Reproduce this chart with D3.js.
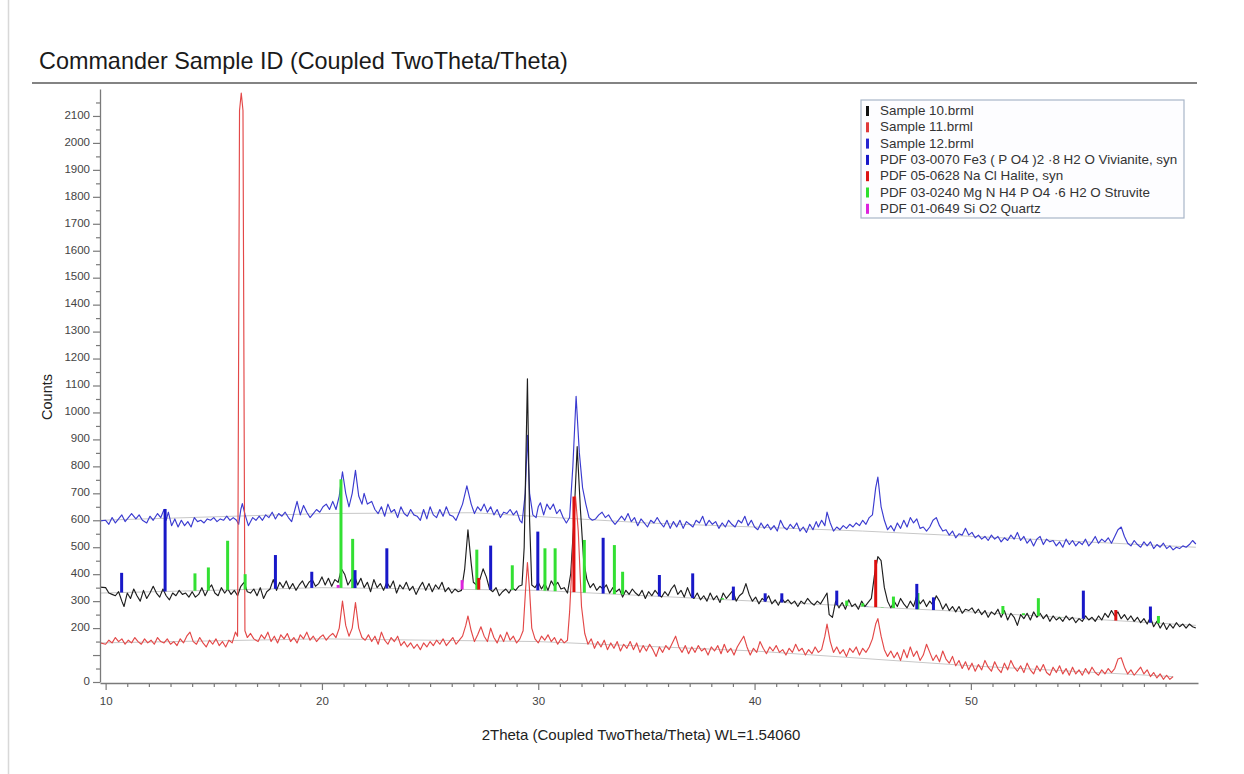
<!DOCTYPE html>
<html>
<head>
<meta charset="utf-8">
<script src="https://cdn.jsdelivr.net/npm/d3@7"></script>
<style>
  body { margin: 0; background: #fff; font-family: "Liberation Sans", Arial, sans-serif; }
  svg { display: block; }
</style>
</head>
<body>
<svg></svg>
<script>
// measured patterns, [2theta, counts]
let sample12 = [[9.75,598],[10.0,600],[10.15,585],[10.3,610],[10.45,590],[10.6,605],[10.75,620],[10.9,595],[11.05,610],[11.2,625],[11.4,605],[11.55,620],[11.7,600],[11.9,590],[12.05,615],[12.2,600],[12.4,625],[12.55,610],[12.7,640],[12.8,600],[12.9,630],[13.05,580],[13.2,605],[13.35,575],[13.5,600],[13.65,580],[13.8,595],[13.95,575],[14.1,610],[14.25,595],[14.4,600],[14.55,590],[14.7,605],[14.85,600],[15.0,610],[15.15,595],[15.3,605],[15.45,600],[15.6,615],[15.75,600],[15.9,610],[16.05,600],[16.15,585],[16.25,640],[16.32,662],[16.45,620],[16.6,580],[16.8,610],[16.95,600],[17.1,615],[17.25,600],[17.4,620],[17.55,610],[17.7,630],[17.85,605],[18.0,625],[18.15,615],[18.3,630],[18.45,610],[18.6,595],[18.75,640],[18.85,670],[19.0,620],[19.15,655],[19.3,630],[19.45,610],[19.6,625],[19.75,640],[19.9,630],[20.05,650],[20.2,660],[20.35,640],[20.5,670],[20.65,640],[20.8,690],[20.95,780],[21.1,700],[21.25,650],[21.4,700],[21.55,785],[21.7,690],[21.85,660],[21.95,700],[22.1,660],[22.3,670],[22.45,640],[22.6,625],[22.75,650],[22.9,615],[23.05,660],[23.2,630],[23.35,640],[23.5,610],[23.65,650],[23.8,625],[23.95,615],[24.1,640],[24.25,620],[24.4,615],[24.55,600],[24.7,640],[24.85,605],[25.0,650],[25.15,620],[25.3,610],[25.45,640],[25.6,615],[25.75,650],[25.9,620],[26.05,615],[26.2,600],[26.35,630],[26.5,660],[26.7,728],[26.9,660],[27.05,625],[27.2,650],[27.35,635],[27.5,660],[27.65,630],[27.8,650],[27.95,620],[28.1,640],[28.25,610],[28.4,630],[28.55,625],[28.7,640],[28.85,620],[29.0,635],[29.15,600],[29.25,590],[29.4,700],[29.5,915],[29.6,700],[29.75,620],[29.9,610],[30.0,650],[30.1,665],[30.25,620],[30.4,660],[30.55,640],[30.7,660],[30.85,625],[31.0,640],[31.15,610],[31.3,590],[31.45,610],[31.6,800],[31.75,1060],[31.9,850],[32.05,720],[32.2,660],[32.35,610],[32.5,600],[32.65,605],[32.8,620],[32.95,630],[33.1,610],[33.25,620],[33.4,600],[33.55,585],[33.7,600],[33.85,615],[34.0,600],[34.15,625],[34.3,595],[34.45,610],[34.6,580],[34.75,605],[34.9,590],[35.05,575],[35.2,600],[35.35,590],[35.5,610],[35.65,590],[35.8,575],[35.95,600],[36.1,570],[36.25,595],[36.4,575],[36.55,600],[36.7,570],[36.85,595],[37.0,585],[37.15,575],[37.3,600],[37.45,590],[37.6,615],[37.75,580],[37.9,600],[38.05,585],[38.2,595],[38.35,570],[38.5,590],[38.65,575],[38.8,600],[38.95,585],[39.1,575],[39.25,600],[39.4,590],[39.55,615],[39.7,580],[39.85,600],[40.0,575],[40.15,565],[40.3,590],[40.45,570],[40.6,585],[40.75,565],[40.9,580],[41.05,560],[41.2,600],[41.35,575],[41.5,565],[41.65,585],[41.8,570],[41.95,590],[42.1,560],[42.25,575],[42.4,555],[42.55,585],[42.7,565],[42.85,595],[42.95,575],[43.1,600],[43.25,580],[43.35,630],[43.5,590],[43.65,560],[43.8,575],[43.95,565],[44.1,580],[44.25,570],[44.4,585],[44.55,575],[44.7,590],[44.85,580],[45.0,600],[45.15,585],[45.3,610],[45.45,620],[45.6,720],[45.7,760],[45.85,650],[46.0,600],[46.15,565],[46.3,580],[46.45,560],[46.6,590],[46.75,570],[46.9,600],[47.05,575],[47.2,610],[47.35,590],[47.5,605],[47.65,570],[47.8,575],[47.95,560],[48.1,575],[48.25,600],[48.4,610],[48.55,580],[48.7,560],[48.85,565],[49.0,545],[49.15,560],[49.3,535],[49.45,550],[49.6,545],[49.75,570],[49.9,545],[50.05,555],[50.2,535],[50.35,545],[50.5,530],[50.65,540],[50.8,525],[50.95,545],[51.1,530],[51.25,540],[51.4,520],[51.55,535],[51.7,525],[51.85,545],[52.0,530],[52.15,555],[52.3,525],[52.45,540],[52.6,515],[52.75,530],[52.9,505],[53.05,530],[53.2,540],[53.35,510],[53.5,530],[53.65,520],[53.8,525],[53.95,505],[54.1,520],[54.25,500],[54.4,530],[54.55,510],[54.7,525],[54.85,505],[55.0,520],[55.15,510],[55.3,530],[55.45,505],[55.6,520],[55.75,540],[55.9,515],[56.05,530],[56.2,520],[56.35,535],[56.5,515],[56.65,540],[56.8,565],[56.95,575],[57.1,540],[57.25,515],[57.4,505],[57.55,525],[57.7,510],[57.85,500],[58.0,520],[58.15,505],[58.3,520],[58.45,495],[58.6,510],[58.75,500],[58.9,515],[59.05,495],[59.2,505],[59.35,490],[59.5,500],[59.65,495],[59.8,505],[59.95,500],[60.1,510],[60.25,525],[60.4,512]]

let sample10 = [[9.75,352],[10.0,350],[10.15,330],[10.3,325],[10.45,320],[10.6,335],[10.75,300],[10.85,280],[11.0,330],[11.15,310],[11.3,345],[11.45,320],[11.6,300],[11.75,340],[11.9,310],[12.05,330],[12.2,355],[12.35,330],[12.5,315],[12.65,345],[12.8,320],[12.95,305],[13.1,330],[13.25,320],[13.4,340],[13.55,325],[13.7,330],[13.85,315],[14.0,335],[14.15,315],[14.3,325],[14.45,350],[14.6,320],[14.75,345],[14.9,360],[15.05,330],[15.2,320],[15.35,350],[15.5,330],[15.65,345],[15.8,325],[15.95,340],[16.1,320],[16.25,355],[16.4,370],[16.55,335],[16.7,330],[16.85,345],[17.0,320],[17.15,350],[17.3,310],[17.45,335],[17.6,345],[17.75,380],[17.9,340],[18.05,370],[18.2,350],[18.35,375],[18.5,345],[18.65,365],[18.8,340],[18.95,360],[19.1,375],[19.25,350],[19.4,370],[19.55,380],[19.7,355],[19.85,365],[20.0,390],[20.15,360],[20.3,385],[20.45,355],[20.6,380],[20.75,370],[20.9,420],[21.05,400],[21.2,360],[21.35,380],[21.5,395],[21.65,360],[21.8,385],[21.95,350],[22.1,370],[22.25,335],[22.4,380],[22.55,350],[22.7,365],[22.85,340],[23.0,370],[23.15,350],[23.3,375],[23.45,330],[23.6,360],[23.75,345],[23.9,370],[24.05,340],[24.2,355],[24.35,325],[24.5,350],[24.65,370],[24.8,340],[24.95,365],[25.1,335],[25.25,360],[25.4,345],[25.55,370],[25.7,335],[25.85,350],[26.0,330],[26.15,345],[26.3,335],[26.45,340],[26.6,420],[26.75,565],[26.9,440],[27.0,370],[27.15,360],[27.3,380],[27.45,420],[27.6,390],[27.75,345],[27.9,335],[28.05,350],[28.2,320],[28.35,335],[28.5,345],[28.65,330],[28.8,350],[28.95,340],[29.1,355],[29.25,360],[29.35,500],[29.5,1125],[29.6,600],[29.7,360],[29.85,350],[30.0,370],[30.15,345],[30.3,365],[30.45,340],[30.6,375],[30.75,355],[30.9,370],[31.05,345],[31.2,350],[31.35,330],[31.5,400],[31.65,600],[31.8,873],[31.95,640],[32.1,450],[32.25,380],[32.4,350],[32.55,365],[32.7,340],[32.85,355],[33.0,345],[33.15,360],[33.3,330],[33.45,350],[33.6,335],[33.75,345],[33.9,315],[34.05,340],[34.2,325],[34.35,345],[34.5,330],[34.65,320],[34.8,340],[34.95,310],[35.1,335],[35.25,320],[35.4,340],[35.55,325],[35.7,315],[35.85,335],[36.0,320],[36.15,345],[36.3,360],[36.45,325],[36.6,340],[36.75,315],[36.9,350],[37.05,320],[37.2,310],[37.35,330],[37.5,305],[37.65,320],[37.8,300],[37.95,330],[38.1,305],[38.25,320],[38.4,295],[38.55,330],[38.7,310],[38.85,325],[39.0,340],[39.15,300],[39.3,320],[39.45,330],[39.6,365],[39.75,325],[39.9,300],[40.05,315],[40.2,290],[40.35,310],[40.5,300],[40.65,320],[40.8,290],[40.95,305],[41.1,285],[41.25,310],[41.4,295],[41.55,305],[41.7,290],[41.85,300],[42.0,280],[42.15,300],[42.3,290],[42.45,310],[42.6,295],[42.75,285],[42.9,300],[43.05,290],[43.2,310],[43.35,330],[43.45,250],[43.6,240],[43.75,300],[43.9,275],[44.05,295],[44.2,270],[44.35,305],[44.5,280],[44.65,290],[44.8,270],[44.95,300],[45.1,280],[45.25,295],[45.4,310],[45.55,400],[45.7,465],[45.85,450],[46.0,350],[46.15,300],[46.3,275],[46.45,300],[46.6,280],[46.75,310],[46.9,290],[47.05,275],[47.2,300],[47.35,280],[47.5,320],[47.65,290],[47.8,305],[47.95,280],[48.1,300],[48.25,285],[48.4,320],[48.55,300],[48.7,270],[48.85,290],[49.0,265],[49.15,280],[49.3,260],[49.45,280],[49.6,255],[49.75,270],[49.9,265],[50.05,275],[50.2,255],[50.35,270],[50.5,250],[50.65,265],[50.8,240],[50.95,260],[51.1,250],[51.25,270],[51.4,240],[51.55,265],[51.7,230],[51.85,255],[52.0,240],[52.15,210],[52.3,250],[52.45,235],[52.6,255],[52.75,230],[52.9,260],[53.05,240],[53.2,255],[53.35,235],[53.5,250],[53.65,225],[53.8,245],[53.95,230],[54.1,240],[54.25,225],[54.4,245],[54.55,230],[54.7,240],[54.85,220],[55.0,235],[55.15,225],[55.3,245],[55.45,230],[55.6,240],[55.75,225],[55.9,245],[56.05,230],[56.2,255],[56.35,240],[56.5,265],[56.65,245],[56.8,260],[56.95,235],[57.1,250],[57.25,230],[57.4,245],[57.55,225],[57.7,240],[57.85,220],[58.0,235],[58.15,215],[58.3,240],[58.45,205],[58.6,225],[58.75,200],[58.9,220],[59.05,195],[59.2,215],[59.35,200],[59.5,220],[59.65,205],[59.8,215],[59.95,200],[60.1,215],[60.25,205],[60.4,200]]

let sample11 = [[9.75,145],[10.0,140],[10.15,155],[10.3,145],[10.45,165],[10.6,150],[10.75,160],[10.9,140],[11.05,155],[11.2,145],[11.35,165],[11.5,150],[11.65,140],[11.8,160],[11.95,145],[12.1,155],[12.25,140],[12.4,165],[12.55,150],[12.7,145],[12.85,160],[13.0,140],[13.15,150],[13.3,135],[13.45,160],[13.6,145],[13.75,170],[13.9,185],[14.05,150],[14.2,140],[14.35,165],[14.5,145],[14.65,130],[14.8,155],[14.95,140],[15.1,160],[15.25,135],[15.4,150],[15.55,130],[15.7,155],[15.85,145],[16.0,185],[16.1,170],[16.19,2120],[16.27,2185],[16.35,2120],[16.44,190],[16.55,165],[16.7,180],[16.85,160],[17.05,150],[17.2,175],[17.35,160],[17.5,185],[17.65,150],[17.8,170],[17.95,145],[18.1,175],[18.25,160],[18.4,180],[18.55,150],[18.7,165],[18.85,145],[19.0,175],[19.15,160],[19.3,185],[19.45,155],[19.6,170],[19.75,150],[19.9,165],[20.05,175],[20.2,155],[20.35,170],[20.5,180],[20.65,165],[20.8,200],[20.95,300],[21.1,210],[21.25,170],[21.4,200],[21.55,295],[21.7,200],[21.85,165],[22.0,155],[22.15,175],[22.3,150],[22.45,170],[22.6,140],[22.75,185],[22.9,155],[23.05,140],[23.2,165],[23.35,150],[23.5,170],[23.65,135],[23.8,150],[23.95,130],[24.1,145],[24.25,125],[24.4,140],[24.55,120],[24.7,145],[24.85,130],[25.0,150],[25.15,135],[25.3,155],[25.45,140],[25.6,160],[25.75,135],[25.9,150],[26.05,165],[26.2,140],[26.35,155],[26.5,170],[26.65,210],[26.75,245],[26.9,190],[27.05,150],[27.2,175],[27.35,205],[27.5,170],[27.65,150],[27.8,200],[27.95,165],[28.1,145],[28.25,175],[28.4,150],[28.55,185],[28.7,155],[28.85,170],[29.0,145],[29.15,160],[29.3,190],[29.42,350],[29.5,443],[29.6,340],[29.7,200],[29.85,160],[30.0,145],[30.15,170],[30.3,155],[30.45,175],[30.6,150],[30.75,165],[30.9,140],[31.05,160],[31.2,145],[31.35,155],[31.45,260],[31.6,500],[31.72,690],[31.85,560],[32.0,280],[32.15,180],[32.3,140],[32.45,160],[32.6,125],[32.75,150],[32.9,130],[33.05,155],[33.2,120],[33.35,145],[33.5,125],[33.65,150],[33.8,115],[33.95,140],[34.1,125],[34.25,150],[34.4,120],[34.55,145],[34.7,110],[34.85,135],[35.0,115],[35.15,140],[35.3,120],[35.45,95],[35.6,130],[35.75,110],[35.9,135],[36.05,120],[36.2,145],[36.35,170],[36.5,130],[36.65,110],[36.8,135],[36.95,105],[37.1,130],[37.25,110],[37.4,135],[37.55,115],[37.7,125],[37.85,100],[38.0,130],[38.15,115],[38.3,135],[38.45,105],[38.6,140],[38.75,110],[38.9,125],[39.05,100],[39.2,130],[39.35,150],[39.5,170],[39.65,130],[39.8,100],[39.95,125],[40.1,110],[40.25,150],[40.4,125],[40.55,105],[40.7,130],[40.85,115],[41.0,135],[41.15,110],[41.3,120],[41.45,100],[41.6,125],[41.75,110],[41.9,140],[42.05,115],[42.2,125],[42.35,100],[42.5,120],[42.65,105],[42.8,130],[42.95,110],[43.1,120],[43.25,170],[43.35,215],[43.5,150],[43.65,110],[43.8,130],[43.95,105],[44.1,120],[44.25,95],[44.4,125],[44.55,110],[44.7,130],[44.85,100],[45.0,125],[45.15,110],[45.3,130],[45.45,160],[45.6,215],[45.7,235],[45.85,170],[46.0,120],[46.15,95],[46.3,115],[46.45,90],[46.6,110],[46.75,80],[46.9,120],[47.05,90],[47.2,130],[47.35,95],[47.5,115],[47.65,80],[47.8,100],[47.95,140],[48.1,110],[48.25,80],[48.4,100],[48.55,75],[48.7,115],[48.85,85],[49.0,70],[49.15,95],[49.3,60],[49.45,80],[49.6,50],[49.75,75],[49.9,45],[50.05,70],[50.2,40],[50.35,65],[50.5,45],[50.65,80],[50.8,55],[50.95,40],[51.1,75],[51.25,50],[51.4,35],[51.55,70],[51.7,45],[51.85,80],[52.0,55],[52.15,40],[52.3,60],[52.45,35],[52.6,70],[52.75,45],[52.9,30],[53.05,60],[53.2,40],[53.35,65],[53.5,35],[53.65,25],[53.8,55],[53.95,35],[54.1,60],[54.25,30],[54.4,50],[54.55,25],[54.7,55],[54.85,30],[55.0,45],[55.15,25],[55.3,50],[55.45,30],[55.6,55],[55.75,35],[55.9,25],[56.05,45],[56.2,30],[56.35,50],[56.5,35],[56.65,50],[56.8,85],[56.95,90],[57.1,55],[57.25,30],[57.4,45],[57.55,25],[57.7,40],[57.85,55],[58.0,30],[58.15,45],[58.3,20],[58.45,35],[58.6,15],[58.75,30],[58.9,10],[59.05,25],[59.2,10],[59.35,20]]

// fitted backgrounds (faint grey lines)
let bg12 = [[9.75,600],[20,625],[27,628],[35,590],[45,560],[60.4,500]]
let bg10 = [[9.75,330],[20,350],[30,340],[40,300],[50,260],[60.4,210]]
let bg11 = [[9.75,145],[20,160],[30,150],[40,115],[50,60],[59.35,20]]

// reference patterns, [2theta, top of stick in counts]
let vivianite = [[10.74,405],[12.75,642],[17.85,471],[19.53,409],[21.53,415],[23.0,496],[27.8,506],[29.98,558],[33.0,535],[35.6,397],[37.14,403],[39.02,354],[40.49,329],[41.26,329],[43.8,339],[45.19,280],[47.5,364],[48.27,314],[55.2,339],[58.3,280]]
let halite = [[27.25,386],[31.65,688],[45.6,453],[56.7,267]]
let struvite = [[14.13,403],[14.75,425],[15.64,524],[16.45,400],[20.88,752],[21.42,531],[27.16,491],[28.8,433],[30.31,496],[30.78,496],[32.13,527],[33.52,508],[33.9,409],[38.51,311],[44.26,302],[45.0,292],[45.9,275],[46.42,317],[47.55,330],[51.48,282],[52.43,255],[53.12,311],[54.12,239],[58.67,245]]
let quartz = [[20.75,360],[26.48,378]]

let legendLabels = ["Sample 10.brml", "Sample 11.brml", "Sample 12.brml",
  "PDF 03-0070 Fe3 ( P O4 )2 \u00b78 H2 O Vivianite, syn",
  "PDF 05-0628 Na Cl Halite, syn",
  "PDF 03-0240 Mg N H4 P O4 \u00b76 H2 O Struvite",
  "PDF 01-0649 Si O2 Quartz"]
let legendColors = ["#111111", "#e03a3a", "#2525d0", "#1818c8", "#dd1515", "#2ee02e", "#dd22dd"]

let xTicks = [10, 20, 30, 40, 50]
let yTicks = d3.range(0, 2200, 100)

let width = 1244
let height = 774
let svg = d3.select("svg").attr("width", width).attr("height", height)

let xScale = d3.scaleLinear().domain([9.74, 60.5]).range([100, 1198])
let yScale = d3.scaleLinear().domain([0, 2200]).range([682, 89])

// base of the reference sticks follows the Sample 10 background
let stickBase = d3.scaleLinear().domain(bg10.map(d => d[0])).range(bg10.map(d => d[1]))

let drawFrame = function() {
  svg.append("line")
     .attr("x1", 8.5).attr("x2", 8.5).attr("y1", 0).attr("y2", height)
     .attr("stroke", "#d8d8d8").attr("stroke-width", 1.5)

  svg.append("text")
     .attr("x", 39).attr("y", 69)
     .attr("font-size", 23.4)
     .attr("fill", "#1a1a1a")
     .text("Commander Sample ID (Coupled TwoTheta/Theta)")

  svg.append("line")
     .attr("x1", 32).attr("x2", 1197).attr("y1", 83).attr("y2", 83)
     .attr("stroke", "#5a5a5a").attr("stroke-width", 1.6)
}

let drawAxes = function() {
  let yMajor = d3.axisLeft(yScale)
                 .tickValues(yTicks)
                 .tickSize(7).tickSizeOuter(0)
                 .tickFormat(d => d === 100 ? "" : d)
  let yg = svg.append("g").attr("transform", "translate(100,0)").call(yMajor)

  let yMinor = d3.axisLeft(yScale)
                 .tickValues(d3.range(50, 2200, 100))
                 .tickSize(4).tickFormat("")
  let ym = svg.append("g").attr("transform", "translate(100,0)").call(yMinor)
  ym.select(".domain").remove()

  let xMajor = d3.axisBottom(xScale)
                 .tickValues(xTicks)
                 .tickSize(7).tickSizeOuter(0)
  let xg = svg.append("g").attr("transform", "translate(0,683)").call(xMajor)

  let xMinor = d3.axisBottom(xScale)
                 .tickValues(d3.range(11, 61).filter(d => d % 10 !== 0))
                 .tickSize(4).tickFormat("")
  let xm = svg.append("g").attr("transform", "translate(0,683)").call(xMinor)
  xm.select(".domain").remove()

  svg.selectAll(".domain").attr("stroke", "#7a7a7a").attr("stroke-width", 1.3)
  svg.selectAll(".tick line").attr("stroke", "#7a7a7a").attr("stroke-width", 1.2)
  svg.selectAll(".tick text")
     .attr("fill", "#444")
     .attr("font-size", 11.5)
     .attr("font-family", "'Liberation Sans', Arial, sans-serif")
  xg.selectAll(".tick text").attr("dy", "1.0em")
  yg.selectAll(".tick text").attr("dy", "0.2em")

  svg.append("text")
     .attr("transform", "translate(52,397) rotate(-90)")
     .attr("text-anchor", "middle")
     .attr("font-size", 14.5)
     .attr("fill", "#222")
     .text("Counts")

  svg.append("text")
     .attr("x", 641).attr("y", 740)
     .attr("text-anchor", "middle")
     .attr("font-size", 15)
     .attr("fill", "#222")
     .text("2Theta (Coupled TwoTheta/Theta) WL=1.54060")
}

let drawPatterns = function() {
  let line = d3.line().x(d => xScale(d[0])).y(d => yScale(d[1]))

  ;[bg12, bg10, bg11].forEach(bg => {
    svg.append("path")
       .datum(bg)
       .attr("d", line)
       .attr("fill", "none")
       .attr("stroke", "#c8c8c8")
       .attr("stroke-width", 1)
  })

  let series = [
    {data: sample12, color: "#3b3bd0"},
    {data: sample10, color: "#1e1e1e"},
    {data: sample11, color: "#e34848"}
  ]
  series.forEach(s => {
    svg.append("path")
       .datum(s.data)
       .attr("d", line)
       .attr("fill", "none")
       .attr("stroke", s.color)
       .attr("stroke-width", 1.15)
       .attr("stroke-linejoin", "round")
  })
}

let drawSticks = function() {
  let phases = [
    {data: struvite, color: "#33e033"},
    {data: vivianite, color: "#1818c8"},
    {data: quartz, color: "#dd22dd"},
    {data: halite, color: "#dd1010"}
  ]
  phases.forEach(p => {
    svg.append("g")
       .selectAll("line")
       .data(p.data)
       .enter()
       .append("line")
       .attr("x1", d => xScale(d[0]))
       .attr("x2", d => xScale(d[0]))
       .attr("y1", d => yScale(stickBase(d[0])))
       .attr("y2", d => yScale(d[1]))
       .attr("stroke", p.color)
       .attr("stroke-width", 3)
  })
}

let drawLegend = function() {
  let lg = svg.append("g").attr("transform", "translate(861,100)")
  lg.append("rect")
    .attr("width", 323).attr("height", 118)
    .attr("fill", "#fdfdff")
    .attr("stroke", "#a9b6c8").attr("stroke-width", 1.2)

  let rows = lg.selectAll(".row")
               .data(legendLabels)
               .enter()
               .append("g")
               .attr("transform", (d, i) => "translate(0," + (10 + i * 16.3) + ")")
  rows.append("rect")
      .attr("x", 5).attr("y", -4)
      .attr("width", 3).attr("height", 10)
      .attr("fill", (d, i) => legendColors[i])
  rows.append("text")
      .attr("x", 19).attr("y", 5)
      .attr("font-size", 13.4)
      .attr("fill", "#333")
      .text(d => d)
}

drawFrame()
drawPatterns()
drawSticks()
drawAxes()
drawLegend()
</script>
</body>
</html>
